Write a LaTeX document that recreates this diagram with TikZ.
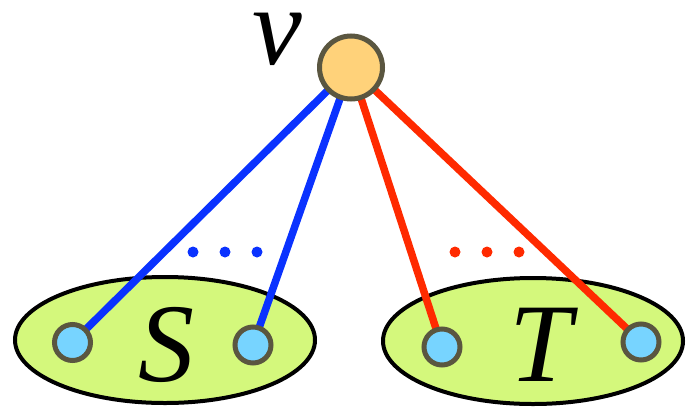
\documentclass[tikz,border=0pt]{standalone}
\usepackage{fontspec}
\setmainfont{Liberation Serif}
\usetikzlibrary{shapes.geometric}
\pgfdeclarelayer{bg}
\pgfdeclarelayer{mid}
\pgfsetlayers{bg,mid,main}
\definecolor{vfill}{HTML}{FFD27A}
\definecolor{nborder}{HTML}{5A5640}
\definecolor{efill}{HTML}{D4F87C}
\definecolor{sfill}{HTML}{77D4FF}
\definecolor{eblue}{HTML}{0A32FF}
\definecolor{ered}{HTML}{FF2A00}
\tikzset{
  setbox/.style={ellipse, draw=black, line width=4pt, fill=efill, minimum width=300pt, minimum height=126pt, inner sep=0pt},
  small/.style={circle, draw=nborder, line width=5pt, fill=sfill, minimum size=36pt, inner sep=0pt},
  top/.style={circle, draw=nborder, line width=5pt, fill=vfill, minimum size=63pt, inner sep=0pt},
  edge/.style={line width=7.5pt},
  bigtxt/.style={font=\fontsize{112}{112}\selectfont\itshape, inner sep=0pt},
  dotb/.style={circle, fill=eblue, minimum size=11pt, inner sep=0pt},
  dotr/.style={circle, fill=ered, minimum size=11pt, inner sep=0pt}
}
\begin{document}
\begin{tikzpicture}[x=1pt,y=-1pt]
\useasboundingbox (0,0) rectangle (687,407);
\begin{pgfonlayer}{bg}
\node[setbox] (S) at (165,340) {};
\node[setbox] (T) at (533,341) {};
\end{pgfonlayer}
\node[top] (v) at (351,67.5) {};
\node[small] (s1) at (72.5,342.5) {};
\node[small] (s2) at (253,345) {};
\node[small] (t1) at (442,347) {};
\node[small] (t2) at (641,342) {};
\begin{pgfonlayer}{mid}
\draw[edge, eblue] (v.center) -- (s1.center);
\draw[edge, eblue] (v.center) -- (s2.center);
\draw[edge, ered] (v.center) -- (t1.center);
\draw[edge, ered] (v.center) -- (t2.center);
\end{pgfonlayer}
\node[bigtxt, anchor=base] (vlabel) at (277,64) {v};
\node[bigtxt] (Slabel) at (166,345) {S};
\node[bigtxt] (Tlabel) at (541,345) {T};
\node[dotb] (b1) at (193,252) {};
\node[dotb] (b2) at (225,252) {};
\node[dotb] (b3) at (257,252) {};
\node[dotr] (r1) at (455,252) {};
\node[dotr] (r2) at (487,252) {};
\node[dotr] (r3) at (519,252) {};
\end{tikzpicture}
\end{document}
